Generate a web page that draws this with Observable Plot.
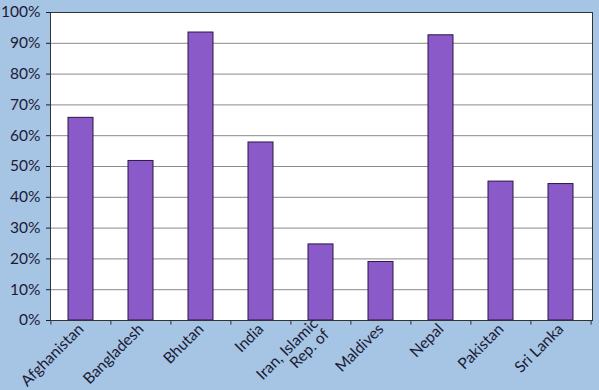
<!DOCTYPE html>
<html><head><meta charset="utf-8">
<script src="https://cdn.jsdelivr.net/npm/d3@7"></script>
<script src="https://cdn.jsdelivr.net/npm/@observablehq/plot@0.6"></script>
<style>
html,body{margin:0;padding:0;background:#a6c4e4;}
#chart svg{display:block;}
</style></head><body><div id="chart"></div>
<script>
const countries = ["Afghanistan","Bangladesh","Bhutan","India","Iran, Islamic\nRep. of","Maldives","Nepal","Pakistan","Sri Lanka"];
const shares = [0.658, 0.518, 0.935, 0.578, 0.247, 0.19, 0.926, 0.451, 0.443];
const yTicks = [0, 0.1, 0.2, 0.3, 0.4, 0.5, 0.6, 0.7, 0.8, 0.9, 1];
const gridTicks = yTicks.slice(1, -1);
const data = countries.map((c, i) => ({country: c, share: shares[i]}));
const W = 599, H = 390, ml = 50, mr = 7;
const step = (W - ml - mr) / countries.length;
const plot = Plot.plot({
  width: W, height: H, marginLeft: ml, marginRight: mr, marginTop: 12, marginBottom: 70,
  style: {background: "#a6c4e4", fontFamily: "Lato, sans-serif", color: "#1b1b35"},
  x: {domain: countries, paddingInner: 0.58, paddingOuter: 0.29},
  y: {domain: [0, 1]},
  marks: [
    Plot.frame({fill: "white", stroke: "none"}),
    Plot.ruleY(gridTicks, {stroke: "#8a8a8a"}),
    Plot.barY(data, {x: "country", y: "share", fill: "#8a5ac8", stroke: "#2e1548", strokeWidth: 1}),
    Plot.frame({stroke: "#333"}),
    Plot.axisY({ticks: yTicks, tickFormat: d3.format(".0%"), tickSize: 4, tickPadding: 6, fontSize: 15.5, label: null}),
    Plot.axisX({tickRotate: -45, tickSize: 0, tickPadding: 6, fontSize: 15.5, label: null}),
    Plot.ruleX(countries, {x: d => d, dx: -step / 2, y1: 0, y2: -0.015, stroke: "#333"}),
    Plot.ruleX(countries.slice(-1), {x: d => d, dx: step / 2, y1: 0, y2: -0.015, stroke: "#333"})
  ]
});
document.getElementById("chart").appendChild(plot);
</script></body></html>
